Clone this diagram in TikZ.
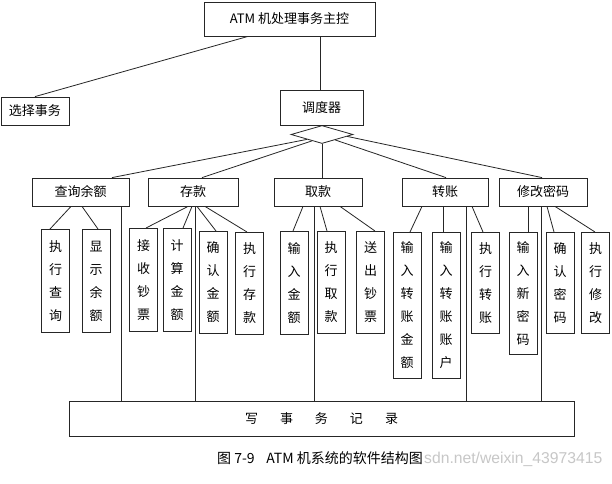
\documentclass[tikz,border=0pt]{standalone}
\usepackage{fontspec}
\setmainfont{Noto Sans CJK SC}
\newfontfamily\wmfont{Liberation Sans}
\usetikzlibrary{shapes.geometric,calc}
\begin{document}
\begin{tikzpicture}[x=1pt,y=-1pt,
  box/.style={draw=black!85,line width=0.8pt,inner sep=0pt,font=\fontsize{13}{15}\selectfont},
  vbox/.style={draw=black!85,line width=0.8pt,inner sep=0pt,minimum width=28pt,anchor=north,align=center,font=\fontsize{13}{23}\selectfont},
  conn/.style={draw=black!85,line width=0.8pt}]
\useasboundingbox[fill=white] (0,0) rectangle (612,483);

% upper part
\node[box,minimum width=171pt,minimum height=34pt] (top) at (289.5,19) {ATM 机处理事务主控};
\node[box,minimum width=68pt,minimum height=28pt] (sel) at (35,111) {选择事务};
\node[box,minimum width=83pt,minimum height=35pt] (sch) at (321.5,107.5) {调度器};
\node[draw=black!85,line width=0.8pt,diamond,minimum width=62pt,minimum height=18pt,inner sep=0pt] (dia) at (322,134.5) {};

% level 1
\node[box,minimum width=97pt,minimum height=28pt] (cx) at (80.5,192) {查询余额};
\node[box,minimum width=90pt,minimum height=28pt] (ck) at (193,192) {存款};
\node[box,minimum width=88pt,minimum height=28pt] (qk) at (318,192) {取款};
\node[box,minimum width=86pt,minimum height=28pt] (zz) at (445,192) {转账};
\node[box,minimum width=88pt,minimum height=28pt] (xg) at (543,192) {修改密码};

% level 2
\node[vbox,minimum height=103pt] (a1) at (55.5,229) {执\\行\\查\\询};
\node[vbox,minimum height=103pt] (a2) at (96,229) {显\\示\\余\\额};
\node[vbox,minimum height=103pt] (b1) at (143.5,228) {接\\收\\钞\\票};
\node[vbox,minimum height=103pt] (b2) at (177,228) {计\\算\\金\\额};
\node[vbox,minimum height=102pt] (b3) at (213,231) {确\\认\\金\\额};
\node[vbox,minimum height=102pt] (b4) at (249.5,232) {执\\行\\存\\款};
\node[vbox,minimum height=103pt] (c1) at (294,231) {输\\入\\金\\额};
\node[vbox,minimum height=102pt] (c2) at (331,231) {执\\行\\取\\款};
\node[vbox,minimum height=102pt] (c3) at (370.5,231) {送\\出\\钞\\票};
\node[vbox,minimum height=146pt] (d1) at (407,232) {输\\入\\转\\账\\金\\额};
\node[vbox,minimum height=146pt] (d2) at (446,232) {输\\入\\转\\账\\账\\户};
\node[vbox,minimum height=101pt] (d3) at (485.5,232) {执\\行\\转\\账};
\node[vbox,minimum height=122pt] (e1) at (523,232) {输\\入\\新\\密\\码};
\node[vbox,minimum height=101pt] (e2) at (560,232) {确\\认\\密\\码};
\node[vbox,minimum height=101pt] (e3) at (595.5,232) {执\\行\\修\\改};

% bottom
\node[box,minimum width=505pt,minimum height=35pt] (wr) at (321.5,418.5) {写\hspace{22pt}事\hspace{22pt}务\hspace{22pt}记\hspace{22pt}录};

% caption and watermark
\node[anchor=base west,inner sep=0pt,font=\fontsize{14}{16}\selectfont] (cap1) at (217,463) {图 7-9};
\node[anchor=base east,inner sep=0pt,font=\fontsize{14}{16}\selectfont] (cap2) at (423,463) {ATM 机系统的软件结构图};
\node[anchor=base west,text=black!22,font=\wmfont\fontsize{15.7}{17}\selectfont,inner sep=0pt] (wm) at (424,463) {sdn.net/weixin\_43973415};

% connectors top
\draw[conn] ([xshift=-41.5pt]top.south) -- (sel.north);
\coordinate (t1) at ([xshift=30.5pt]top.south);
\draw[conn] (t1) -- (t1 |- sch.north);

% diamond to level 1
\draw[conn] ($(dia.west)!0.52!(dia.south)$) -- ([xshift=31.5pt]cx.north);
\draw[conn] ($(dia.west)!0.68!(dia.south)$) -- ([xshift=9pt]ck.north);
\draw[conn] (dia.south) -- (dia.south |- qk.north);
\draw[conn] ($(dia.south)!0.42!(dia.east)$) -- ([xshift=1pt]zz.north);
\draw[conn] ($(dia.south)!0.80!(dia.east)$) -- ([xshift=-1pt]xg.north);

% level 1 to level 2
\draw[conn] ([xshift=-9.5pt]cx.south) -- ([xshift=-5.5pt]a1.north);
\draw[conn] ([xshift=1.5pt]cx.south) -- ([xshift=2pt]a2.north);
\draw[conn] ([xshift=-5pt]ck.south) -- ([xshift=2.5pt]b1.north);
\draw[conn] ([xshift=-1pt]ck.south) -- ([xshift=6pt]b2.north);
\draw[conn] ([xshift=4pt]ck.south) -- ([xshift=3pt]b3.north);
\draw[conn] ([xshift=12pt]ck.south) -- ([xshift=-2.5pt]b4.north);
\draw[conn] ([xshift=-15pt]qk.south) -- ([xshift=-1pt]c1.north);
\draw[conn] ([xshift=2pt]qk.south) -- ([xshift=-4pt]c2.north);
\draw[conn] ([xshift=22pt]qk.south) -- ([xshift=4.5pt]c3.north);
\draw[conn] ([xshift=-23pt]zz.south) -- ([xshift=3pt]d1.north);
\draw[conn] ([xshift=-2pt]zz.south) -- ([xshift=-3pt]d2.north);
\draw[conn] ([xshift=27pt]zz.south) -- ([xshift=-2.5pt]d3.north);
\draw[conn] ([xshift=-15pt]xg.south) -- ([xshift=5pt]e1.north);
\draw[conn] ([xshift=4pt]xg.south) -- ([xshift=-6pt]e2.north);
\draw[conn] ([xshift=12pt]xg.south) -- ([xshift=-0.5pt]e3.north);

% level 1 to bottom
\coordinate (v1) at ([xshift=40.5pt]cx.south);
\coordinate (v2) at ([xshift=2pt]ck.south);
\coordinate (v3) at ([xshift=-4pt]qk.south);
\coordinate (v4) at ([xshift=21pt]zz.south);
\coordinate (v5) at ([xshift=-2pt]xg.south);
\draw[conn] (v1) -- (v1 |- wr.north);
\draw[conn] (v2) -- (v2 |- wr.north);
\draw[conn] (v3) -- (v3 |- wr.north);
\draw[conn] (v4) -- (v4 |- wr.north);
\draw[conn] (v5) -- (v5 |- wr.north);
\end{tikzpicture}
\end{document}
